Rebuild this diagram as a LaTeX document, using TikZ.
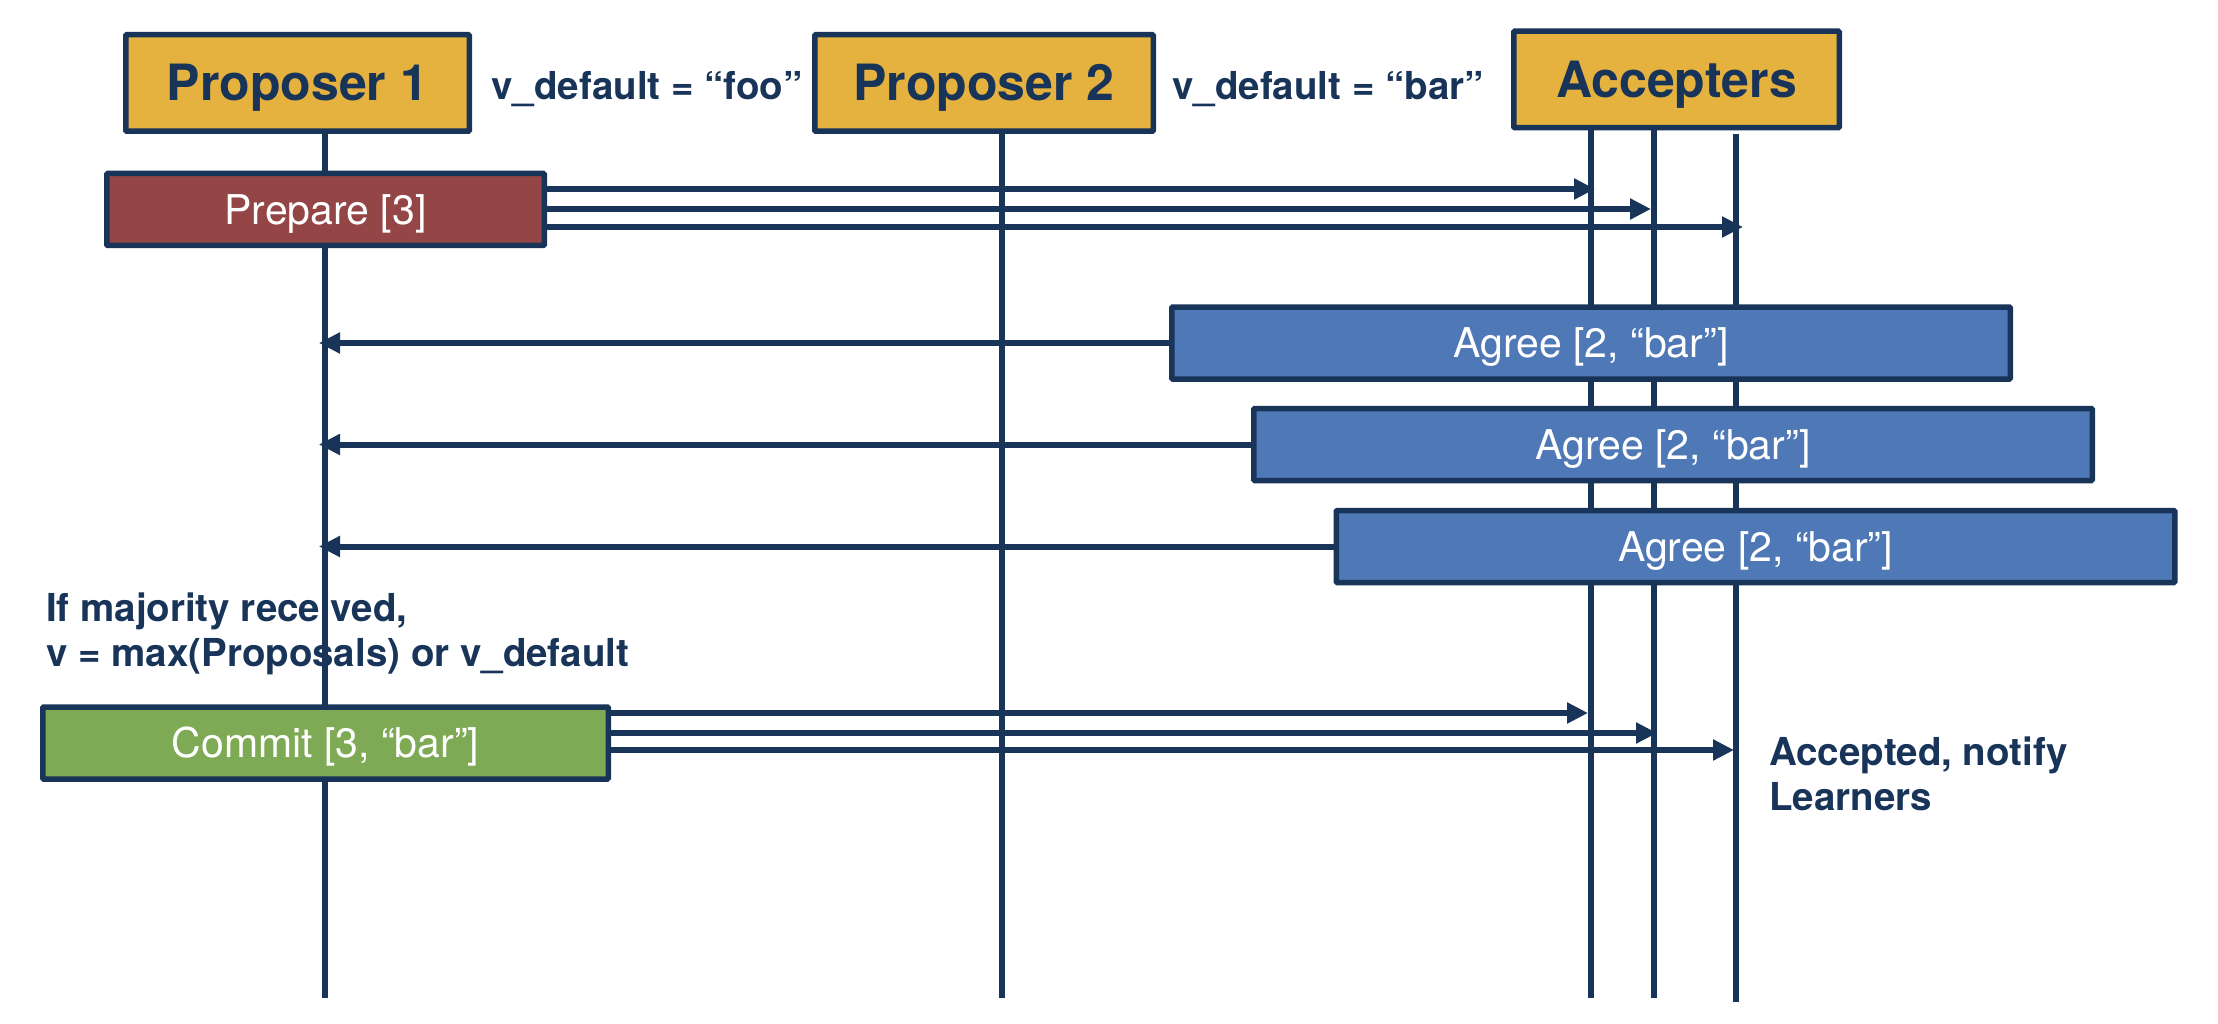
\documentclass[tikz,border=0pt]{standalone}
\usepackage{fontspec}
\setmainfont{TeX Gyre Heros}
\usetikzlibrary{arrows.meta}
\definecolor{navy}{RGB}{24,52,88}
\definecolor{gold}{RGB}{229,178,64}
\definecolor{prepred}{RGB}{148,70,70}
\definecolor{agreeblue}{RGB}{79,120,183}
\definecolor{commitgreen}{RGB}{127,170,85}
\begin{document}
\begin{tikzpicture}[x=1pt,y=-1pt,
  hdr/.style={draw=navy,line width=5.5pt,fill=gold,text=navy,
    font=\bfseries\fontsize{50}{60}\selectfont,minimum width=#1,
    minimum height=96.5pt,inner sep=0pt,text height=36pt,text depth=0pt,
    rounded corners=1pt},
  msgbox/.style={draw=navy,line width=5.5pt,fill=#1,text=white,
    font=\fontsize{41}{48}\selectfont,minimum height=72pt,inner sep=0pt,
    text height=29.5pt,text depth=0pt,rounded corners=1pt},
  lbl/.style={text=navy,font=\bfseries\fontsize{38.5}{44.5}\selectfont,inner sep=0pt},
  life/.style={draw=navy,line width=6pt},
  msg/.style={draw=navy,line width=6pt,-{Triangle[length=21pt,width=20pt]}}]
\useasboundingbox (0,0) rectangle (2218,1024);

% header boxes
\node[hdr=343.5pt] (p1) at (297.5,83) {Proposer 1};
\node[hdr=338.5pt] (p2) at (984,83) {Proposer 2};
\node[hdr=325.5pt] (acc) at (1676.5,79.5) {Accepters};

\node[lbl,anchor=base] (vfoo) at (647,100) {v\_default = “foo”};
\node[lbl,anchor=base] (vbar) at (1328,100) {v\_default = “bar”};

% lifelines
\coordinate (l1top) at (325,134);  \coordinate (l1bot) at (325,998);
\coordinate (l2top) at (1002,134); \coordinate (l2bot) at (1002,998);
\coordinate (a1top) at (1591,130); \coordinate (a1bot) at (1591,998);
\coordinate (a2top) at (1654,130); \coordinate (a2bot) at (1654,998);
\coordinate (a3top) at (1736,134); \coordinate (a3bot) at (1736,1002);
\draw[life] (l1top) -- (l1bot);
\draw[life] (l2top) -- (l2bot);
\draw[life] (a1top) -- (a1bot);
\draw[life] (a2top) -- (a2bot);
\draw[life] (a3top) -- (a3bot);

% message boxes
\node[msgbox=prepred,minimum width=437.5pt] (prep) at (325.5,209.5) {Prepare [3]};
\node[msgbox=agreeblue,minimum width=838.5pt] (ag1) at (1591,343) {Agree [2, “bar”]};
\node[msgbox=agreeblue,minimum width=838.5pt] (ag2) at (1673,444.5) {Agree [2, “bar”]};
\node[msgbox=agreeblue,minimum width=838.5pt] (ag3) at (1755.5,546.5) {Agree [2, “bar”]};
\node[msgbox=commitgreen,minimum width=565.5pt] (com) at (325.5,743) {Commit [3, “bar”]};

% prepare arrows
\draw[msg,shorten >=-4pt] ([yshift=20.5pt]prep.east) -- ([yshift=20.5pt]prep.east -| a1top);
\draw[msg,shorten >=3pt] ([yshift=0.5pt]prep.east) -- ([yshift=0.5pt]prep.east -| a2top);
\draw[msg,shorten >=-7pt] ([yshift=-17.5pt]prep.east) -- ([yshift=-17.5pt]prep.east -| a3top);

% agree arrows
\draw[msg,shorten >=-6pt] (ag1.west) -- (ag1.west -| l1top);
\draw[msg,shorten >=-6pt] (ag2.west) -- (ag2.west -| l1top);
\draw[msg,shorten >=-6pt] (ag3.west) -- (ag3.west -| l1top);

% commit arrows
\draw[msg,shorten >=3pt] ([yshift=30pt]com.east) -- ([yshift=30pt]com.east -| a1top);
\draw[msg,shorten >=-3pt] ([yshift=10pt]com.east) -- ([yshift=10pt]com.east -| a2top);
\draw[msg,shorten >=2pt] ([yshift=-7pt]com.east) -- ([yshift=-7pt]com.east -| a3top);

% notes (base anchor = baseline of last line)
\node[lbl,anchor=base west,align=left] (maj) at (46,666)
  {If majority received,\\v = max(Proposals) or v\_default};
\node[lbl,anchor=base west,align=left] (accd) at (1769,810)
  {Accepted, notify\\Learners};
\end{tikzpicture}
\end{document}
